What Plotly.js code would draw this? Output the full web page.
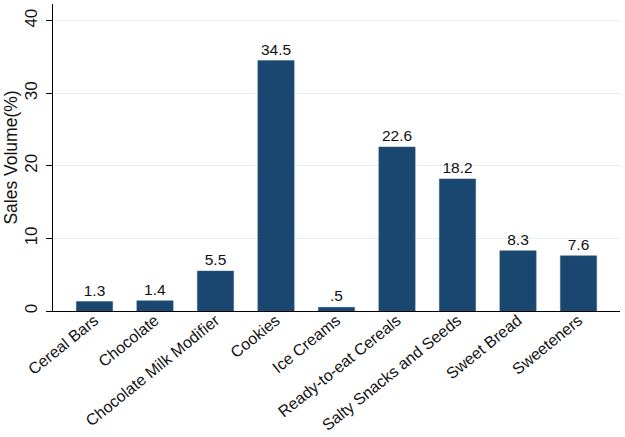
<!DOCTYPE html>
<html>
<head>
<meta charset="utf-8">
<script src="https://cdn.plot.ly/plotly-3.0.1.min.js"></script>
<style>
  html, body { margin: 0; padding: 0; background: #fff; }
  #chart { width: 625px; height: 437px; }
</style>
</head>
<body>
<div id="chart"></div>
<script>
const categories = ["Cereal Bars", "Chocolate", "Chocolate Milk Modifier", "Cookies", "Ice Creams",
  "Ready-to-eat Cereals", "Salty Snacks and Seeds", "Sweet Bread", "Sweeteners"];
const salesVolume = [1.3, 1.4, 5.5, 34.5, 0.5, 22.6, 18.2, 8.3, 7.6];
const valueLabels = ["1.3", "1.4", "5.5", "34.5", ".5", "22.6", "18.2", "8.3", "7.6"];

const trace = {
  type: "bar",
  x: categories,
  y: salesVolume,
  text: valueLabels,
  textposition: "outside",
  cliponaxis: false,
  textfont: { family: "Liberation Sans, Arial, sans-serif", size: 15.5, color: "#111" },
  marker: { color: "#1a476f", line: { color: "#2a5a85", width: 0.5 } },
  width: 0.6,
  hoverinfo: "x+y"
};

const layout = {
  width: 625,
  height: 437,
  margin: { l: 53, r: 5, t: 4, b: 126 },
  paper_bgcolor: "#fff",
  plot_bgcolor: "#fff",
  showlegend: false,
  font: { family: "Liberation Sans, Arial, sans-serif", color: "#111" },
  xaxis: {
    range: [-0.686, 8.686],
    tickangle: -39,
    tickfont: { size: 16 },
    ticklabelstandoff: -7,
    showline: true,
    linecolor: "#000",
    linewidth: 1,
    ticks: "",
    showgrid: false,
    zeroline: false
  },
  yaxis: {
    range: [0, 42.3],
    tickvals: [0, 10, 20, 30, 40],
    tickangle: -90,
    tickfont: { size: 17 },
    ticks: "outside",
    ticklen: 6,
    tickcolor: "#000",
    ticklabelstandoff: 2,
    showline: true,
    linecolor: "#000",
    linewidth: 1,
    showgrid: true,
    gridcolor: "#e4eef0",
    zeroline: false,
    title: { text: "Sales Volume(%)", font: { size: 17.5 }, standoff: 0 }
  },
  bargap: 0.4
};

Plotly.newPlot("chart", [trace], layout, { displayModeBar: false, staticPlot: true });
</script>
</body>
</html>
